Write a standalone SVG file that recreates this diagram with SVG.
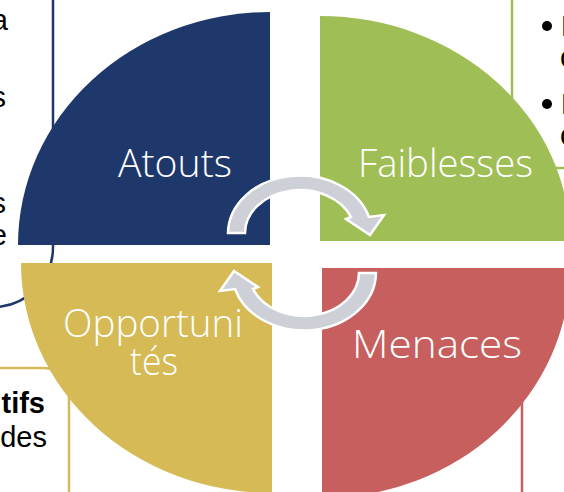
<svg xmlns="http://www.w3.org/2000/svg" width="564" height="492" viewBox="0 0 564 492">
<style>
.box{fill:none;stroke-width:2.5}
.body{font-family:"Liberation Sans","DejaVu Sans",sans-serif;font-size:29px;fill:#000}
.lbl{font-family:"Open Sans","Liberation Sans",sans-serif;font-weight:300;font-size:38px;fill:#fff}
.arrow{fill:#CDD0D7;stroke:#fff;stroke-width:2.5;stroke-linejoin:miter}
</style>
<rect width="564" height="492" fill="#fff"/>
<g id="box-atouts">
<path class="box" stroke="#1F386B" d="M53,-5 L53,247 A60,60 0 0 1 -7,307 L-20,307"/>
<text class="body" x="8" y="30" text-anchor="end">a</text>
<text class="body" x="6" y="107" text-anchor="end">s</text>
<text class="body" x="6" y="213" text-anchor="end">s</text>
<text class="body" x="7" y="245" text-anchor="end">e</text>
</g>
<g id="box-faiblesses">
<path class="box" stroke="#9FBE55" d="M512,-5 L512,143 A25,25 0 0 0 537,168 L570,168"/>
<circle cx="547" cy="26" r="5" fill="#000"/>
<circle cx="547" cy="104" r="5" fill="#000"/>
<text class="body" x="561" y="36">L</text>
<text class="body" x="560" y="67">c</text>
<text class="body" x="561" y="114">L</text>
<text class="body" x="560" y="145">c</text>
</g>
<g id="box-opportunites">
<path class="box" stroke="#D5BA55" d="M-10,368 L44,368 A25,25 0 0 1 69,393 L69,500"/>
<text class="body" x="45" y="413" text-anchor="end" font-weight="bold">itifs</text>
<text class="body" x="47" y="447" text-anchor="end">des</text>
</g>
<g id="box-menaces">
<path class="box" stroke="#C65F5D" d="M522,500 L522,395"/>
</g>
<g id="atouts">
<path fill="#1F386B" d="M270,245 L18,245 A252,233 0 0 1 270,12 Z"/>
<text class="lbl" x="118" y="177" textLength="114" lengthAdjust="spacingAndGlyphs">Atouts</text>
</g>
<g id="faiblesses">
<path fill="#9FBE55" d="M320,241 L320,16 A250,225 0 0 1 570,241 Z"/>
<text class="lbl" x="358" y="177" textLength="175" lengthAdjust="spacingAndGlyphs">Faiblesses</text>
</g>
<g id="opportunites">
<path fill="#D5BA55" d="M272,263 L272,493 A251,230 0 0 1 21,263 Z"/>
<text class="lbl" x="63" y="337" textLength="180" lengthAdjust="spacingAndGlyphs">Opportuni</text>
<text class="lbl" x="130" y="375" textLength="48" lengthAdjust="spacingAndGlyphs">tés</text>
</g>
<g id="menaces">
<path fill="#C65F5D" d="M322,268 L570,268 A248,230 0 0 1 322,498 Z"/>
<text class="lbl" x="352" y="358" textLength="170" lengthAdjust="spacingAndGlyphs">Menaces</text>
</g>
<g id="connectors">
<path class="arrow" d="M228,233 A72,58 0 0 1 369,217 L384,215 L370,235 L346,219 L351,217 A55,43 0 0 0 245,233 Z"/>
<path class="arrow" transform="rotate(180 302 253)" d="M228,233 A72,58 0 0 1 369,217 L384,215 L370,235 L346,219 L351,217 A55,43 0 0 0 245,233 Z"/>
</g>
</svg>
